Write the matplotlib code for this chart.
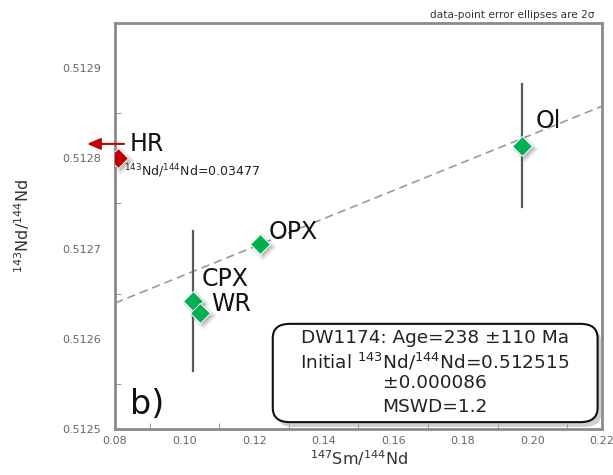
import numpy as np
import matplotlib
matplotlib.use("Agg")
import matplotlib.pyplot as plt
from matplotlib.patches import FancyBboxPatch
from matplotlib.ticker import MultipleLocator, FormatStrFormatter
from matplotlib.transforms import ScaledTranslation

#region DATA

labels = ["CPX", "WR", "OPX", "Ol"]
smNd = [0.1024, 0.1044, 0.1217, 0.1970]  # 147Sm/144Nd
ndNd = [0.512642, 0.512629, 0.512705, 0.512814]  # 143Nd/144Nd
ndErr = [0.000078, 0.0, 0.0, 0.000068]  # 2 sigma, only the visible ones

hrX = 0.081
hrY = 0.51280
hrArrowY = 0.512816
hrArrowX = [0.0834, 0.0712]
hrNote = r"$^{143}$Nd/$^{144}$Nd=0.03477"

# isochron fit
initialNd = 0.512515
isoSlope = 0.001558
xRange = [0.08, 0.22]
yRange = [0.5125, 0.51295]

boxLines = ["DW1174: Age=238 \u00b1110 Ma",
            r"Initial $^{143}$Nd/$^{144}$Nd=0.512515",
            "\u00b10.000086",
            "MSWD=1.2"]

#endregion

plt.rcParams['font.family'] = ['DejaVu Sans']
plt.rcParams['mathtext.default'] = 'regular'

fig = plt.figure(figsize=(6.13, 4.75), dpi=100)
ax = fig.add_axes([0.1876, 0.0968, 0.7944, 0.8548])
ax.set_xlim(xRange)
ax.set_ylim(yRange)

#isochron line
lineX = np.array(xRange)
ax.plot(lineX, initialNd + isoSlope * lineX, color="#9a9a9a", lw=1.2,
        dashes=(5, 3), zorder=2)

#error bars
for x, y, e in zip(smNd, ndNd, ndErr):
    if e > 0:
        ax.plot([x, x], [y - e, y + e], color="#5a5a5a", lw=1.6, zorder=3)

#soft drop shadows under the diamonds
shift = ax.transData + ScaledTranslation(3 / 100, -3 / 100, fig.dpi_scale_trans)
def shadow(x, y):
    for k, a in enumerate([0.08, 0.10, 0.12, 0.14]):
        ax.plot(x, y, marker="D", ms=14 - 2 * k, color="#404040", alpha=a,
                mew=0, linestyle="none", zorder=4, transform=shift)

for x, y in zip(smNd, ndNd):
    shadow(x, y)
shadow(hrX, hrY)

ax.plot(smNd, ndNd, "D", ms=10, color="#00b050", mec="white", mew=0.7,
        linestyle="none", zorder=5)
ax.plot(hrX, hrY, "D", ms=10, color="#c00000", mec="white", mew=0.7,
        linestyle="none", zorder=5)

#HR arrow, runs past the left axis
ax.annotate("", xy=(hrArrowX[1], hrArrowY), xytext=(hrArrowX[0], hrArrowY),
            arrowprops=dict(arrowstyle="-|>,head_length=0.8,head_width=0.35",
                            color="#c00000", lw=1.5),
            annotation_clip=False, zorder=6)

#point labels
offsets = {"CPX": (6, 16), "WR": (8, 6), "OPX": (6, 9), "Ol": (10, 18)}
for name, x, y in zip(labels, smNd, ndNd):
    dx, dy = offsets[name]
    ax.annotate(name, (x, y), xytext=(dx, dy), textcoords="offset points",
                fontsize=17, va="center", ha="left", color="#111111", zorder=6)
ax.annotate("HR", (hrX, hrY), xytext=(8, 10), textcoords="offset points",
            fontsize=17, va="center", ha="left", color="#111111", zorder=6)
ax.annotate(hrNote, (hrX, hrY), xytext=(4, -9), textcoords="offset points",
            fontsize=9, va="center", ha="left", color="#222222", zorder=6)

#result box with shadow
bx, by, bw, bh = 0.324, 0.017, 0.667, 0.242
ax.add_patch(FancyBboxPatch((bx + 0.008, by - 0.012), bw, bh,
                            boxstyle="round,pad=0.0,rounding_size=0.035",
                            transform=ax.transAxes, fc="#b0b0b0", ec="none",
                            alpha=0.6, zorder=7))
ax.add_patch(FancyBboxPatch((bx, by), bw, bh,
                            boxstyle="round,pad=0.0,rounding_size=0.035",
                            transform=ax.transAxes, fc="white", ec="#111111",
                            lw=1.5, zorder=8))
lineYs = [0.224, 0.165, 0.113, 0.054]
for line, ly in zip(boxLines, lineYs):
    ax.text(bx + bw / 2, ly, line, transform=ax.transAxes,
            ha="center", va="center", fontsize=13.3, color="#222222", zorder=9)

ax.text(0.03, 0.06, "b)", transform=ax.transAxes, fontsize=24,
        color="#111111", va="center", ha="left")

fig.text(0.969, 0.969, "data-point error ellipses are 2\u03c3", ha="right",
         va="center", fontsize=7.6, color="#333333")

#axes styling
ax.xaxis.set_major_locator(MultipleLocator(0.02))
ax.xaxis.set_minor_locator(MultipleLocator(0.01))
ax.yaxis.set_major_locator(MultipleLocator(0.0001))
ax.yaxis.set_minor_locator(MultipleLocator(0.00005))
ax.xaxis.set_major_formatter(FormatStrFormatter("%.2f"))
ax.yaxis.set_major_formatter(FormatStrFormatter("%.4f"))
ax.tick_params(which="both", direction="in", color="#888888", labelcolor="#666666",
               labelsize=8)
ax.tick_params(which="major", length=0)
ax.tick_params(which="minor", length=4)
ax.tick_params(axis="x", pad=5)
ax.tick_params(axis="y", pad=10)
for s in ax.spines.values():
    s.set_color("#8a8a8a")
    s.set_linewidth(2)

ax.set_xlabel(r"$^{147}$Sm/$^{144}$Nd", fontsize=11.5, color="#333333", labelpad=2)
ax.set_ylabel(r"$^{143}$Nd/$^{144}$Nd", fontsize=11.5, color="#333333", labelpad=22)

fig.savefig("out.png", dpi=100)
